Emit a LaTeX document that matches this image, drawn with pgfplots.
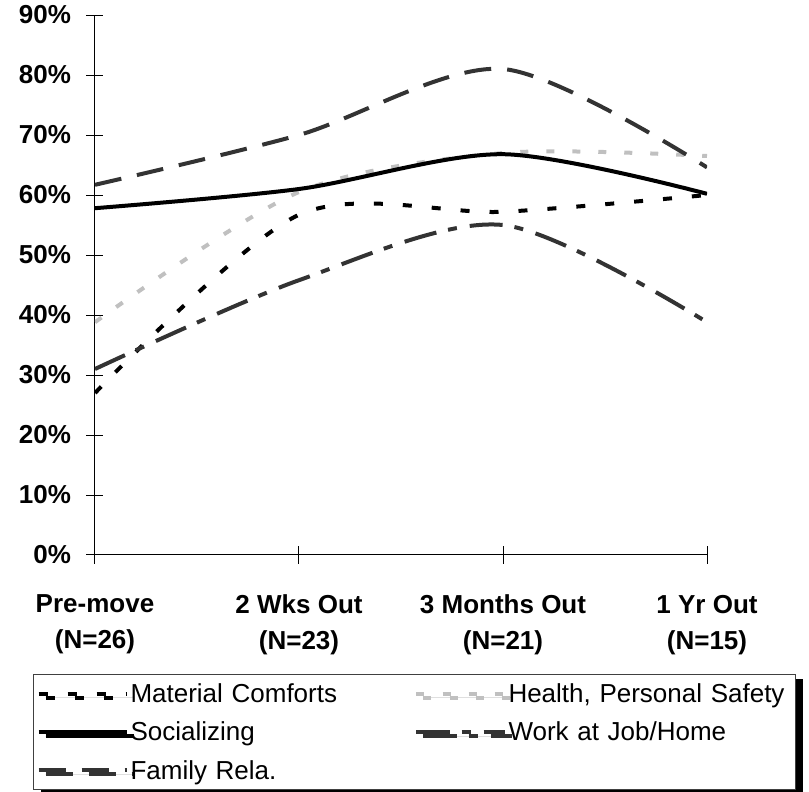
\documentclass[border=0pt]{standalone}
\usepackage{pgfplots}
\pgfplotsset{compat=1.18}
\usepackage{fontspec}
\setmainfont{Liberation Sans}
\usetikzlibrary{shadows}
\definecolor{darkline}{HTML}{333333}
\definecolor{lightline}{HTML}{C0C0C0}

\begin{document}
\begin{tikzpicture}
\begin{axis}[
  scale only axis, width=612pt, height=540pt,
  xmin=0, xmax=3, ymin=0, ymax=90,
  axis lines=left, axis line style={-, black, line width=1pt},
  xtick={0,1,2,3},
  xticklabels={{Pre-move\\(N=26)},{2 Wks Out\\(N=23)},{3 Months Out\\(N=21)},{1 Yr Out\\(N=15)}},
  ytick={0,10,...,90},
  yticklabels={0\%,10\%,20\%,30\%,40\%,50\%,60\%,70\%,80\%,90\%},
  tick align=center, major tick length=17pt,
  tick style={black, line width=1pt},
  ticklabel style={font=\fontsize{26}{36}\selectfont\bfseries},
  xticklabel style={align=center, yshift=-28pt},
  yticklabel style={xshift=-12pt},
  legend columns=2,
  legend style={at={(-0.1013,-0.2204)}, anchor=north west,
    draw=darkgray, line width=1pt, inner xsep=3pt, inner ysep=7pt,
    font=\fontsize{26}{32}\selectfont,
    drop shadow={shadow xshift=7pt, shadow yshift=-4pt, fill=black, opacity=1},
    row sep=14pt,
    /tikz/every even column/.append style={text width=282pt}},
  legend cell align=left,
  legend image code/.code={\draw[#1] (0pt,0pt) -- (88pt,0pt);},
]
% Material Comforts
\addplot[black, line width=4pt, dash pattern=on 9pt off 20pt, smooth, tension=0.5]
  coordinates {(0,27) (1,56.7) (2,57.2) (3,60)};
\addlegendentry{Material Comforts}
% Health, Personal Safety
\addplot[lightline, line width=4pt, dash pattern=on 8pt off 18pt, smooth, tension=0.5]
  coordinates {(0,38.8) (1,60.5) (2,67) (3,66.5)};
\addlegendentry{Health, Personal Safety}
% Socializing
\addplot[black, line width=4pt, smooth, tension=0.5]
  coordinates {(0,57.8) (1,61) (2,66.8) (3,60.2)};
\addlegendentry{Socializing}
% Work at Job/Home
\addplot[darkline, line width=4pt, dash pattern=on 33pt off 12pt on 9pt off 13pt, smooth, tension=0.5]
  coordinates {(0,31) (1,45.8) (2,55) (3,38.8)};
\addlegendentry{Work at Job/Home}
% Family Rela.
\addplot[darkline, line width=4pt, dash pattern=on 27pt off 16pt, smooth, tension=0.5]
  coordinates {(0,61.7) (1,70) (2,81) (3,64.6)};
\addlegendentry{Family Rela.}
\end{axis}
\pgfresetboundingbox
\path[use as bounding box] (-95pt,-237pt) rectangle (714pt,555pt);
\end{tikzpicture}
\end{document}
